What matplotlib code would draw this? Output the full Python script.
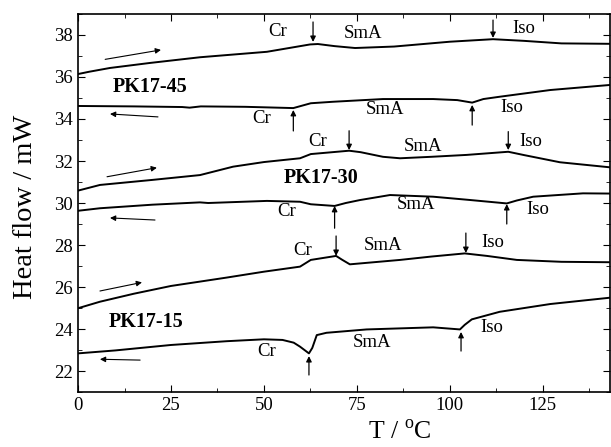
import matplotlib
matplotlib.use('Agg')
import matplotlib.pyplot as plt

plt.rcParams['font.family'] = ['Liberation Serif', 'DejaVu Serif']
plt.rcParams['mathtext.fontset'] = 'custom'
plt.rcParams['mathtext.rm'] = 'Liberation Serif'

# PK17-45 heating / cooling
t45_heat = [0, 3, 8.6, 19.4, 32.8, 50.8, 62.4, 64.5, 69, 74.5, 85, 100, 111.6, 120, 130, 143]
q45_heat = [36.14, 36.25, 36.43, 36.67, 36.94, 37.2, 37.55, 37.57, 37.47, 37.38, 37.45, 37.68, 37.8, 37.72, 37.6, 37.58]
t45_cool = [0, 15, 28, 30, 33, 45, 57.9, 62.6, 68.5, 82, 95.5, 102, 106, 109, 113.4, 127, 143]
q45_cool = [34.62, 34.6, 34.57, 34.54, 34.6, 34.58, 34.52, 34.75, 34.82, 34.95, 34.95, 34.9, 34.78, 34.95, 35.06, 35.38, 35.62]

# PK17-30 heating / cooling
t30_heat = [0, 5.9, 20, 32.8, 41.7, 50, 59.7, 62.6, 72.9, 76, 82, 86.6, 95, 104.5, 115.7, 120, 129.6, 143]
q30_heat = [30.59, 30.86, 31.1, 31.33, 31.73, 31.95, 32.13, 32.33, 32.49, 32.42, 32.2, 32.13, 32.2, 32.29, 32.44, 32.28, 31.94, 31.7]
t30_cool = [0, 5.9, 20, 32.8, 35, 50.8, 59.7, 62.6, 69, 72, 75.8, 83.9, 95.5, 105, 115.3, 118, 122.4, 135.8, 143]
q30_cool = [29.63, 29.75, 29.92, 30.03, 30.0, 30.1, 30.06, 29.94, 29.86, 30.0, 30.14, 30.38, 30.3, 30.15, 29.98, 30.12, 30.3, 30.46, 30.45]

# PK17-15 heating / cooling
t15_heat = [0, 5.9, 15, 25, 40, 50, 59.7, 62.6, 69.4, 71, 73.1, 86.6, 95, 104, 110, 118, 130, 143]
q15_heat = [24.99, 25.3, 25.68, 26.05, 26.45, 26.73, 26.97, 27.29, 27.48, 27.3, 27.08, 27.29, 27.45, 27.6, 27.48, 27.29, 27.2, 27.18]
t15_cool = [0, 10, 25, 40, 50, 55, 58, 59.7, 62.1, 63, 64.2, 66.8, 77.6, 95.5, 102.7, 104, 105.9, 113.4, 127, 143]
q15_cool = [22.84, 22.98, 23.24, 23.42, 23.51, 23.48, 23.35, 23.16, 22.84, 23.1, 23.71, 23.82, 23.98, 24.08, 23.98, 24.2, 24.46, 24.82, 25.19, 25.49]

phase_labels = [
    ('Cr', 53.8, 38.19), ('SmA', 76.6, 38.05), ('Iso', 120, 38.29),
    ('Cr', 49.4, 34.0), ('SmA', 82.5, 34.43), ('Iso', 116.7, 34.57),
    ('Cr', 64.5, 32.95), ('SmA', 92.8, 32.68), ('Iso', 121.7, 32.92),
    ('Cr', 56.1, 29.59), ('SmA', 91, 29.95), ('Iso', 123.7, 29.7),
    ('Cr', 60.5, 27.73), ('SmA', 82, 28.0), ('Iso', 111.6, 28.11),
    ('Cr', 50.8, 22.92), ('SmA', 79, 23.35), ('Iso', 111.3, 24.08),
]
sample_labels = [('PK17-45', 19.3, 35.52), ('PK17-30', 65.3, 31.18), ('PK17-15', 18.3, 24.35)]

# transition markers: (x, tail y, head y)
transitions = [
    (63.2, 38.62, 37.67), (111.6, 38.71, 37.86),
    (57.9, 33.43, 34.43), (106, 33.71, 34.67),
    (72.9, 33.44, 32.52), (115.7, 33.4, 32.52),
    (69, 28.8, 29.86), (115.3, 29.0, 29.95),
    (69.4, 28.43, 27.48), (104.3, 28.57, 27.62),
    (62.1, 21.81, 22.71), (103, 22.95, 23.86),
]
# scan direction arrows: (tail x, tail y, head x, head y)
directions = [
    (7.3, 36.84, 22.3, 37.29), (21.5, 34.1, 8.6, 34.24),
    (7.8, 31.25, 21.2, 31.68), (20.7, 29.19, 8.6, 29.29),
    (5.9, 25.81, 17.2, 26.22), (16.7, 22.52, 5.9, 22.56),
]

fig = plt.figure(figsize=(6.11, 4.47), dpi=100)
ax = fig.add_axes([0.1277, 0.123, 0.8703, 0.8457])

for t, q in [(t45_heat, q45_heat), (t45_cool, q45_cool), (t30_heat, q30_heat),
             (t30_cool, q30_cool), (t15_heat, q15_heat), (t15_cool, q15_cool)]:
    ax.plot(t, q, color='black', lw=1.4)

for s, x, y in phase_labels:
    ax.text(x, y, s, ha='center', va='center', fontsize=13.5)
for s, x, y in sample_labels:
    ax.text(x, y, s, ha='center', va='center', fontsize=14.5, fontweight='bold')

for x, y0, y1 in transitions:
    ax.annotate('', xy=(x, y1), xytext=(x, y0),
                arrowprops=dict(arrowstyle='-|>', lw=0.9, color='black',
                                mutation_scale=8, shrinkA=0, shrinkB=0))
for x0, y0, x1, y1 in directions:
    ax.annotate('', xy=(x1, y1), xytext=(x0, y0),
                arrowprops=dict(arrowstyle='-|>', lw=0.8, color='black',
                                mutation_scale=8, shrinkA=0, shrinkB=0))

ax.set_xlim(0, 143)
ax.set_ylim(21, 39)
ax.set_xticks([0, 25, 50, 75, 100, 125])
ax.set_xticks([12.5, 37.5, 62.5, 87.5, 112.5, 137.5], minor=True)
ax.set_yticks([22, 24, 26, 28, 30, 32, 34, 36, 38])
ax.set_yticks(range(21, 40), minor=True)
ax.tick_params(which='both', direction='in', top=True, right=True, labelsize=13.5)
ax.tick_params(which='major', length=5)
ax.tick_params(which='minor', length=3)
for sp in ax.spines.values():
    sp.set_linewidth(1.2)

ax.set_xlabel('T / $^{\\rm o}$C', fontsize=18.5)
ax.xaxis.set_label_coords(0.605, -0.075)
ax.set_ylabel('Heat flow / mW', fontsize=20.5)
ax.yaxis.set_label_coords(-0.076, 0.49)

fig.savefig('out.png', dpi=100)
